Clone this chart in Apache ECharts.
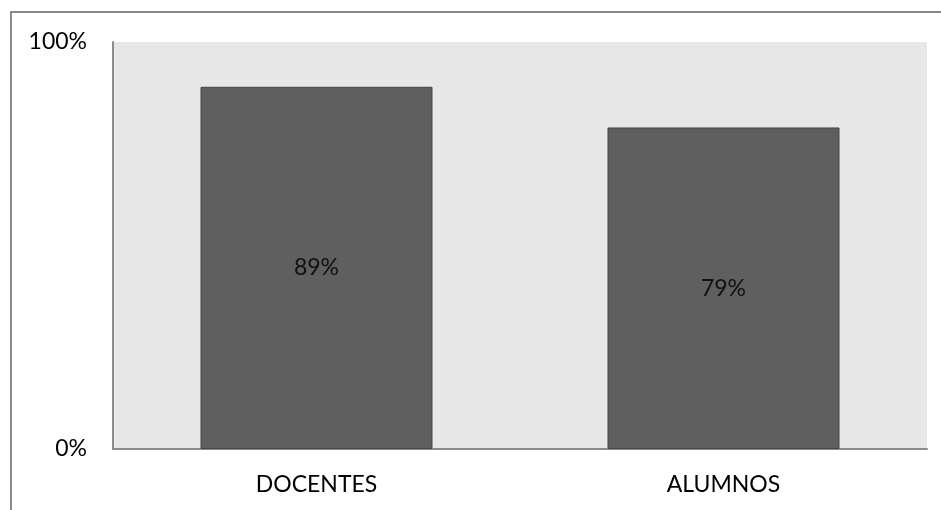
<!DOCTYPE html>
<html>
<head>
<meta charset="utf-8">
<script src="https://cdn.jsdelivr.net/npm/echarts@6/dist/echarts.min.js"></script>
<style>
html,body{margin:0;padding:0;background:#fff;}
#chart{width:941px;height:510px;}
</style>
</head>
<body>
<div id="chart"></div>
<script>
const categories = ['DOCENTES', 'ALUMNOS'];
const values = [0.89, 0.79];
const yMin = 0;
const yMax = 1;

const FONT = 'Lato, "Liberation Sans", sans-serif';
const chart = echarts.init(document.getElementById('chart'));
chart.setOption({
  animation: false,
  graphic: [{
    type: 'rect',
    shape: { x: 11, y: 12, width: 1000, height: 1000 },
    style: { fill: 'none', stroke: '#898989', lineWidth: 2 },
    z: 0
  }],
  grid: {
    left: 113, top: 42, right: 14, bottom: 61,
    show: true, backgroundColor: '#e7e7e7', borderWidth: 0
  },
  xAxis: {
    type: 'category',
    data: categories,
    axisLine: { show: true, lineStyle: { color: '#8c8c8c', width: 2 } },
    axisTick: { show: false },
    axisLabel: { color: '#000', fontFamily: FONT, fontSize: 23, margin: 24 }
  },
  yAxis: {
    type: 'value',
    min: yMin, max: yMax, interval: 1,
    axisLine: { show: true, lineStyle: { color: '#8c8c8c', width: 2 } },
    axisTick: { show: false },
    splitLine: { show: false },
    axisLabel: {
      color: '#000', fontFamily: FONT, fontSize: 23, margin: 26,
      formatter: v => Math.round(v * 100) + '%'
    }
  },
  series: [{
    type: 'bar',
    data: values,
    barWidth: '57%',
    itemStyle: { color: '#5f5f5f', borderColor: '#454545', borderWidth: 1 },
    label: {
      show: true, position: 'inside', color: '#111',
      fontFamily: FONT, fontSize: 23,
      formatter: p => Math.round(p.value * 100) + '%'
    }
  }]
});
</script>
</body>
</html>
